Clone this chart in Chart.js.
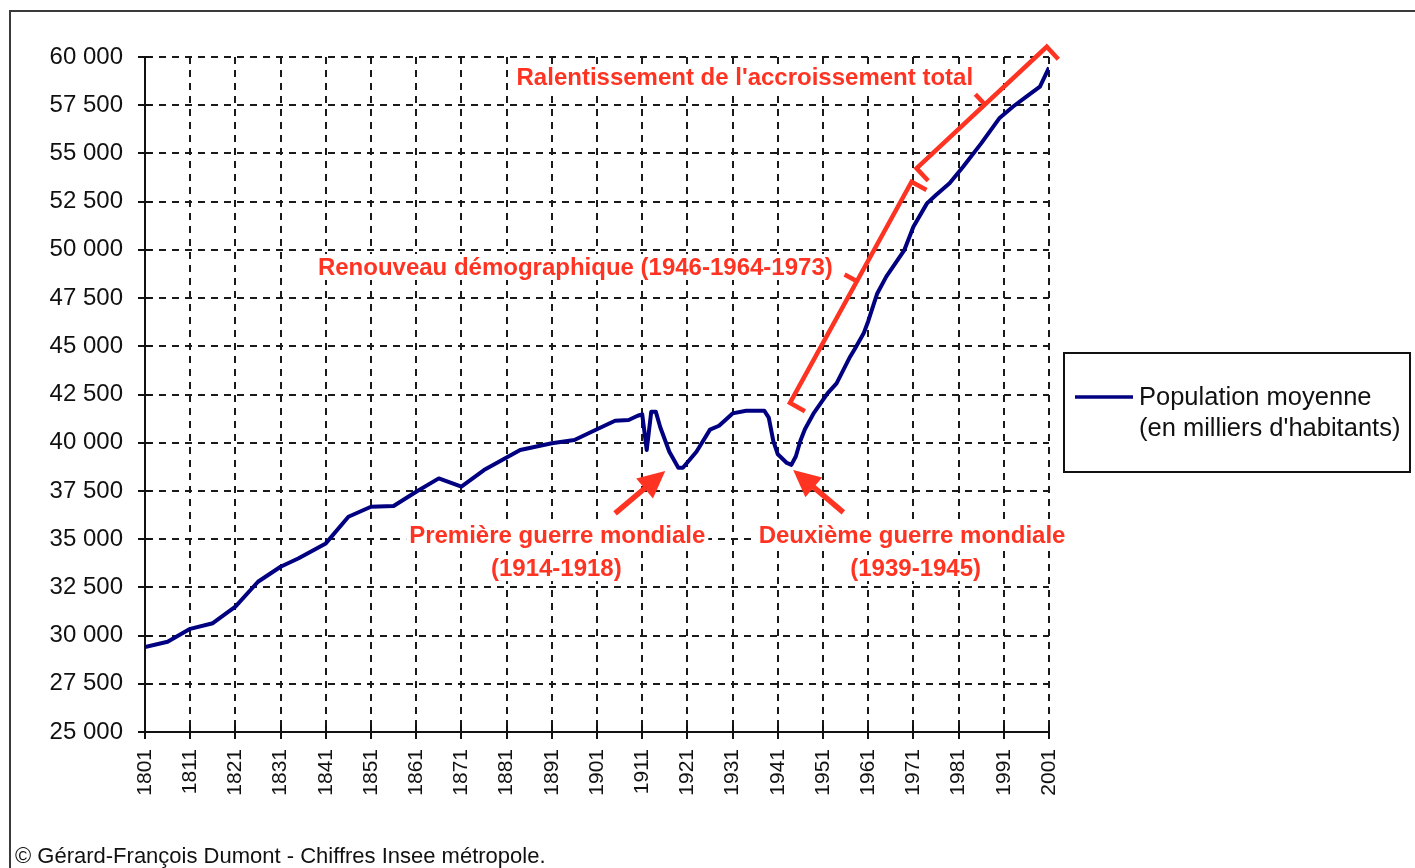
<!DOCTYPE html>
<html lang="fr">
<head>
<meta charset="utf-8">
<title>Population moyenne de la France métropolitaine, 1801-2001</title>
<script src="https://cdn.jsdelivr.net/npm/chart.js@4.4.1/dist/chart.umd.min.js"></script>
<style>
  html, body { margin: 0; padding: 0; background: #fff; }
  body { width: 1415px; height: 868px; position: relative; overflow: hidden;
         font-family: "Liberation Sans", Arial, sans-serif; }
  #frame { position: absolute; left: 9px; top: 10px; width: 1430px; height: 900px;
           border: 2px solid #3a3a3a; }
  #pop-chart { position: absolute; left: 0; top: 0; }
  #credit { position: absolute; left: 15px; top: 843px; font-size: 22px; color: #111;
            white-space: nowrap; }
</style>
</head>
<body>
<div id="frame"></div>
<canvas id="pop-chart" width="1415" height="868"></canvas>
<div id="credit">© Gérard-François Dumont - Chiffres Insee métropole.</div>
<script>
"use strict";

// --- Data (thousands of inhabitants) --------------------------------------- //
const YEARS = [
  1801, 1806, 1811, 1816, 1821, 1826, 1831, 1835, 1841, 1846,
  1851, 1856, 1861, 1866, 1871, 1876, 1884, 1891, 1896, 1901,
  1905, 1908, 1910, 1911, 1912, 1913, 1914, 1915, 1917, 1919,
  1920, 1923, 1926, 1928, 1931, 1934, 1938, 1939, 1940, 1941,
  1943, 1944, 1945, 1946, 1947, 1949, 1952, 1954, 1957, 1958,
  1960, 1961, 1963, 1965, 1967, 1969, 1971, 1974, 1976, 1979,
  1982, 1986, 1990, 1993, 1996, 1999, 2001,
];
const POPULATION = [
  29400, 29680, 30350, 30640, 31500, 32790, 33570, 34010, 34780, 36160,
  36680, 36720, 37460, 38150, 37720, 38580, 39620, 39970, 40140, 40700,
  41140, 41180, 41400, 41470, 39620, 41610, 41610, 40800, 39530, 38700,
  38700, 39530, 40680, 40880, 41520, 41660, 41660, 41300, 40100, 39400,
  38950, 38850, 39300, 40100, 40700, 41550, 42560, 43080, 44460, 44850,
  45670, 46300, 47740, 48610, 49300, 49990, 51200, 52410, 52840, 53450,
  54310, 55520, 56820, 57420, 57940, 58460, 59450,
];
const SERIES_LABEL = "Population moyenne\n(en milliers d'habitants)";

const X_TICKS = [
  1801, 1811, 1821, 1831, 1841, 1851, 1861, 1871, 1881, 1891, 1901,
  1911, 1921, 1931, 1941, 1951, 1961, 1971, 1981, 1991, 2001,
];
const Y_TICKS = [
  25000, 27500, 30000, 32500, 35000, 37500, 40000, 42500,
  45000, 47500, 50000, 52500, 55000, 57500, 60000,
];

// Annotations, in chart units (year, thousands)
const NOTES = [
  ["Ralentissement de l'accroissement total", 1933.7, 58950],
  ["Renouveau démographique (1946-1964-1973)", 1896.2, 49110],
  ["Première guerre mondiale", 1892.2, 35210],
  ["(1914-1918)", 1892.0, 33500],
  ["Deuxième guerre mondiale", 1970.7, 35210],
  ["(1939-1945)", 1971.5, 33500],
];
// [tail year, tail value, tip year, tip value]
const ARROWS = [
  [1905.0, 36340, 1916.1, 38530],
  [1955.5, 36390, 1944.4, 38590],
];
// [start year, start value, end year, end value, middle mark position]
const BRACKETS = [
  [1943.7, 42060, 1970.6, 53530, 0.55],
  [1971.7, 54230, 2000.5, 60530, 0.525],
];

const RED = "#ff3322";
const INK = "#111";
const FONT = "'Liberation Sans', Arial, sans-serif";

function fmtThousands(v) {
  return String(v).replace(/\B(?=(\d{3})+(?!\d))/g, " ");
}

// --- Plugins ---------------------------------------------------------------- //
// Excel-style ticks cross the axis: Chart.js draws the outer half, we add the inner one.
const crossTicks = {
  id: "crossTicks",
  afterDatasetsDraw(chart) {
    const { ctx, chartArea: a, scales: { x, y } } = chart;
    ctx.save();
    ctx.strokeStyle = INK;
    ctx.lineWidth = 2;
    ctx.beginPath();
    for (const t of y.ticks) {
      const p = Math.round(y.getPixelForValue(t.value));
      ctx.moveTo(a.left, p);
      ctx.lineTo(a.left + 7, p);
    }
    for (const t of x.ticks) {
      const p = Math.round(x.getPixelForValue(t.value));
      ctx.moveTo(p, a.bottom);
      ctx.lineTo(p, a.bottom - 7);
    }
    ctx.stroke();
    ctx.restore();
  },
};

const annotations = {
  id: "annotations",
  afterDatasetsDraw(chart) {
    const { ctx, scales: { x, y } } = chart;
    const px = (yr, v) => [x.getPixelForValue(yr), y.getPixelForValue(v)];
    ctx.save();
    ctx.strokeStyle = RED;
    ctx.fillStyle = RED;

    ctx.lineWidth = 4.5;
    for (const [x1, y1, x2, y2, mid] of BRACKETS) {
      const [ax, ay] = px(x1, y1);
      const [bx, by] = px(x2, y2);
      const len = Math.hypot(bx - ax, by - ay);
      const nx = -(by - ay) / len, ny = (bx - ax) / len;
      ctx.beginPath();
      ctx.moveTo(ax + nx * 17, ay + ny * 17);
      ctx.lineTo(ax, ay);
      ctx.lineTo(bx, by);
      ctx.lineTo(bx + nx * 17, by + ny * 17);
      const mx = ax + (bx - ax) * mid, my = ay + (by - ay) * mid;
      ctx.moveTo(mx, my);
      ctx.lineTo(mx - nx * 14, my - ny * 14);
      ctx.stroke();
    }

    for (const [x1, y1, x2, y2] of ARROWS) {
      const [ax, ay] = px(x1, y1);
      const [bx, by] = px(x2, y2);
      const len = Math.hypot(bx - ax, by - ay);
      const ux = (bx - ax) / len, uy = (by - ay) / len;
      const hx = bx - ux * 27, hy = by - uy * 27;
      ctx.lineWidth = 5.5;
      ctx.beginPath();
      ctx.moveTo(ax, ay);
      ctx.lineTo(hx + ux * 3, hy + uy * 3);
      ctx.stroke();
      ctx.beginPath();
      ctx.moveTo(bx, by);
      ctx.lineTo(hx - uy * 13, hy + ux * 13);
      ctx.lineTo(hx + uy * 13, hy - ux * 13);
      ctx.closePath();
      ctx.fill();
    }

    ctx.font = "bold 24px " + FONT;
    ctx.textAlign = "center";
    ctx.textBaseline = "middle";
    for (const [text, yr, v] of NOTES) {
      const [tx, ty] = px(yr, v);
      const w = ctx.measureText(text).width;
      ctx.fillStyle = "#fff";
      ctx.fillRect(tx - w / 2 - 3, ty - 13, w + 6, 26);
      ctx.fillStyle = RED;
      ctx.fillText(text, tx, ty + 1);
    }
    ctx.restore();
  },
};

const boxLegend = {
  id: "boxLegend",
  afterDraw(chart) {
    const { ctx, chartArea: a } = chart;
    const ds = chart.data.datasets[0];
    const left = a.right + 15, top = 353, width = 346, height = 119;
    ctx.save();
    ctx.lineWidth = 2;
    ctx.strokeStyle = INK;
    ctx.strokeRect(left, top, width, height);
    ctx.strokeStyle = ds.borderColor;
    ctx.lineWidth = 3.5;
    ctx.beginPath();
    ctx.moveTo(left + 11, top + 44);
    ctx.lineTo(left + 69, top + 44);
    ctx.stroke();
    ctx.font = "25.5px " + FONT;
    ctx.fillStyle = INK;
    ctx.textAlign = "left";
    ctx.textBaseline = "middle";
    ds.label.split("\n").forEach((ln, i) => ctx.fillText(ln, left + 75, top + 45 + i * 31));
    ctx.restore();
  },
};

// --- Chart ------------------------------------------------------------------ //
const gridOpts = { color: "#1a1a1a", lineWidth: 2, tickLength: 7, tickColor: INK, tickWidth: 2 };
const borderOpts = { color: INK, width: 2, dash: [7, 6] };

new Chart(document.getElementById("pop-chart"), {
  type: "line",
  data: {
    datasets: [{
      label: SERIES_LABEL,
      data: YEARS.map((yr, i) => ({ x: yr, y: POPULATION[i] })),
      borderColor: "#000080",
      borderWidth: 4,
      borderJoinStyle: "round",
      pointRadius: 0,
      tension: 0,
      fill: false,
    }],
  },
  options: {
    responsive: false,
    animation: false,
    devicePixelRatio: 1,
    layout: { padding: { left: 0, top: 57, right: 366, bottom: 0 } },
    plugins: { legend: { display: false }, tooltip: { enabled: false } },
    scales: {
      x: {
        type: "linear",
        min: X_TICKS[0],
        max: X_TICKS[X_TICKS.length - 1],
        afterBuildTicks: (s) => { s.ticks = X_TICKS.map((v) => ({ value: v })); },
        afterFit: (s) => { s.height = 136; },
        ticks: {
          autoSkip: false, minRotation: 90, maxRotation: 90, padding: 10,
          color: INK, font: { family: FONT, size: 21 },
          callback: (v) => String(v),
        },
        grid: gridOpts,
        border: borderOpts,
      },
      y: {
        min: Y_TICKS[0],
        max: Y_TICKS[Y_TICKS.length - 1],
        afterBuildTicks: (s) => { s.ticks = Y_TICKS.map((v) => ({ value: v })); },
        afterFit: (s) => { s.width = 145; },
        ticks: {
          padding: 15, color: INK, font: { family: FONT, size: 24 },
          callback: (v) => fmtThousands(v),
        },
        grid: gridOpts,
        border: borderOpts,
      },
    },
  },
  plugins: [crossTicks, annotations, boxLegend],
});
</script>
</body>
</html>
